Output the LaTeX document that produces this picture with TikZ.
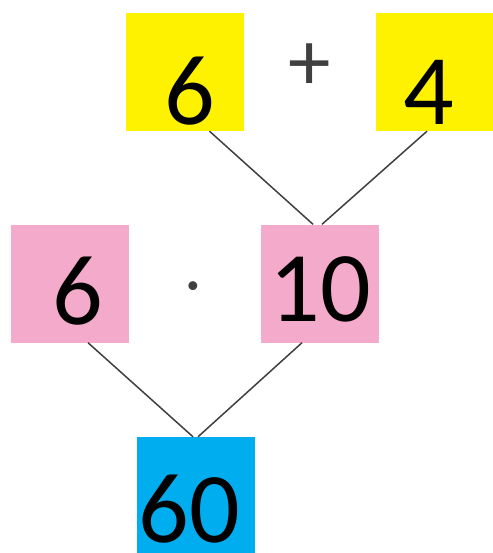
\documentclass[tikz,border=0pt]{standalone}
\usepackage{fontspec}
\usepackage{tikz}
\newfontfamily\numfont{Carlito}
\definecolor{sumyellow}{RGB}{255,242,0}
\definecolor{prodpink}{RGB}{244,170,202}
\definecolor{resblue}{RGB}{0,174,239}
\definecolor{linkgrey}{RGB}{64,64,64}
\tikzset{
  numbox/.style={
    minimum width=118pt,
    minimum height=118pt,
    inner sep=0pt,
    font=\numfont\fontsize{100}{100}\selectfont,
    text=black
  },
  yellowbox/.style={numbox, fill=sumyellow, text height=112pt, text depth=6pt},
  pinkbox/.style={numbox, fill=prodpink},
  bluebox/.style={numbox, fill=resblue, minimum height=116pt, text height=105pt, text depth=11pt},
  opsign/.style={font=\numfont\fontsize{85}{85}\selectfont, text=linkgrey, inner sep=0pt},
  link/.style={draw=linkgrey, line width=1.5pt}
}

\begin{document}
\begin{tikzpicture}[x=1pt,y=-1pt]
  \useasboundingbox[fill=white] (0,0) rectangle (492,553);

  \node[yellowbox] (six) at (184.5,72) {\kern10pt6};
  \node[opsign] (plus) at (310,67) {+};
  \node[yellowbox] (four) at (435,72) {4\kern12pt};

  \node[pinkbox,text height=100pt,text depth=18pt] (factor) at (69.5,283.5) {\kern16pt6};
  \node[opsign,font=\numfont\fontsize{62}{62}\selectfont] (times) at (193,293) {·};
  \node[pinkbox,text height=97pt,text depth=21pt] (ten) at (320,283.5) {10};

  \node[bluebox] (result) at (196,495) {60\kern14pt};

  \draw[link] ([xshift=25pt]six.south) -- ([xshift=-7pt]ten.north);
  \draw[link] ([xshift=-8pt]four.south) -- ([xshift=2pt]ten.north);
  \draw[link] ([xshift=18.5pt]factor.south) -- ([xshift=-3pt]result.north);
  \draw[link] ([xshift=-18pt]ten.south) -- ([xshift=2pt]result.north);
\end{tikzpicture}
\end{document}
